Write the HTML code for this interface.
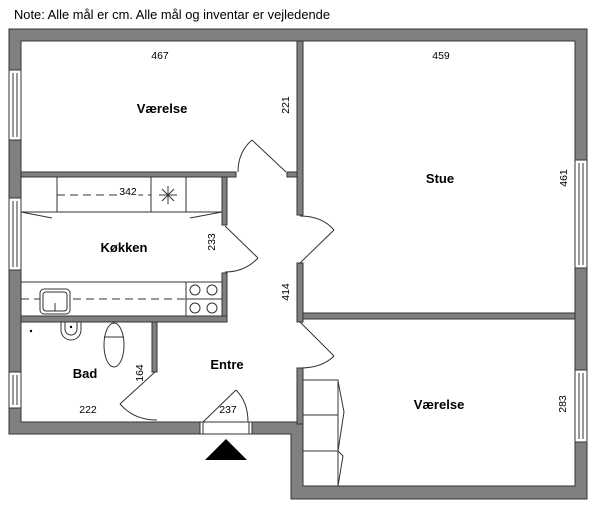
<!DOCTYPE html>
<html><head><meta charset="utf-8"><style>
html,body{margin:0;padding:0;background:#fff;}
svg{display:block;}
text{font-family:"Liberation Sans",sans-serif;fill:#000;}
</style></head><body>
<svg width="600" height="513" viewBox="0 0 600 513" xmlns="http://www.w3.org/2000/svg">
<text x="14" y="19" font-size="12.5" textLength="316" lengthAdjust="spacingAndGlyphs">Note: Alle mål er cm. Alle mål og inventar er vejledende</text>

<g fill="#808080" stroke="#333" stroke-width="1">
<!-- outer walls -->
<polygon points="9,29 587,29 587,499 291,499 291,434 252,434 252,422 303,422 303,486 575,486 575,41 21,41 21,422 200,422 200,434 9,434"/>
<!-- interior -->
<rect x="21" y="172" width="215" height="5"/>
<rect x="287" y="172" width="10" height="5"/>
<rect x="297" y="41" width="6" height="174"/>
<rect x="297" y="263" width="6" height="59"/>
<rect x="303" y="313" width="272" height="6"/>
<rect x="297" y="368" width="6" height="56"/>
<rect x="222" y="177" width="5" height="48"/>
<rect x="222" y="273" width="5" height="49"/>
<rect x="21" y="316" width="206" height="6"/>
<rect x="152" y="322" width="5" height="50"/>
</g>

<!-- windows -->
<g fill="#fff" stroke="#333" stroke-width="1">
<rect x="9" y="70" width="12" height="70"/><line x1="13" y1="73" x2="13" y2="137"/><line x1="17" y1="73" x2="17" y2="137"/>
<rect x="9" y="198" width="12" height="72"/><line x1="13" y1="201" x2="13" y2="267"/><line x1="17" y1="201" x2="17" y2="267"/>
<rect x="9" y="372" width="12" height="36"/><line x1="13" y1="375" x2="13" y2="405"/><line x1="17" y1="375" x2="17" y2="405"/>
<rect x="575" y="160" width="12" height="108"/><line x1="579" y1="163" x2="579" y2="265"/><line x1="583" y1="163" x2="583" y2="265"/>
<rect x="575" y="370" width="12" height="72"/><line x1="579" y1="373" x2="579" y2="439"/><line x1="583" y1="373" x2="583" y2="439"/>
<rect x="200" y="422" width="52" height="12"/><line x1="203" y1="422" x2="203" y2="434"/><line x1="249" y1="422" x2="249" y2="434"/>
</g>

<!-- doors -->
<g fill="none" stroke="#333" stroke-width="1">
<line x1="286" y1="172" x2="252" y2="140"/><path d="M252,140 Q238,152 238,172"/>
<line x1="225" y1="226" x2="258" y2="258"/><path d="M258,258 Q245,272 225,272"/>
<line x1="300" y1="263" x2="334" y2="230"/><path d="M300,216 Q322,216 334,230"/>
<line x1="300" y1="322" x2="334" y2="356"/><path d="M334,356 Q322,368 300,368"/>
<line x1="155" y1="372" x2="120" y2="404"/><path d="M120,404 Q134,420 157,420"/>
<line x1="203" y1="422" x2="236" y2="390"/><path d="M236,390 Q248,402 248,422"/>
</g>

<!-- kitchen -->
<g fill="none" stroke="#333" stroke-width="1">
<rect x="21" y="177" width="201" height="35"/>
<line x1="57" y1="177" x2="57" y2="212"/><line x1="151" y1="177" x2="151" y2="212"/><line x1="186" y1="177" x2="186" y2="212"/>
<line x1="57" y1="195" x2="151" y2="195" stroke-dasharray="8,5"/>
<line x1="168" y1="186" x2="168" y2="204"/><line x1="159" y1="195" x2="177" y2="195"/><line x1="162" y1="189" x2="174" y2="201"/><line x1="174" y1="189" x2="162" y2="201"/>
<line x1="21" y1="212" x2="52" y2="218"/><line x1="222" y1="212" x2="190" y2="218"/>
<rect x="21" y="282" width="201" height="34"/>
<line x1="186" y1="282" x2="186" y2="316"/>
<line x1="21" y1="299" x2="186" y2="299" stroke-dasharray="8,5"/>
<line x1="186" y1="299" x2="222" y2="299"/>
<circle cx="195" cy="290" r="5"/><circle cx="212" cy="290" r="5"/><circle cx="195" cy="308" r="5"/><circle cx="212" cy="308" r="5"/>
<rect x="40" y="289" width="30" height="25" rx="4" fill="#fff"/><rect x="43" y="292" width="24" height="19" rx="3"/>
<line x1="55" y1="303" x2="55" y2="311"/>
<!-- bath -->
<path d="M61,322 L61,330 A10,10 0 0 0 81,330 L81,322"/><path d="M65,322 L65,329 A6,6 0 0 0 77,329 L77,322"/>
<ellipse cx="114" cy="345" rx="10" ry="22"/><line x1="104" y1="337" x2="124" y2="337"/>
<rect x="303" y="380" width="35" height="106"/>
<line x1="303" y1="415" x2="338" y2="415"/><line x1="303" y1="451" x2="338" y2="451"/>
<polyline points="338,381 344,412 338,451 343,456 338,486"/>
</g>
<circle cx="71" cy="327" r="1.2"/><circle cx="31" cy="331" r="1.2"/>
<polygon points="205,460 226,439 247,460" fill="#000"/>

<g font-size="10.5" text-anchor="middle">
<text x="160" y="59">467</text>
<text x="441" y="59">459</text>
<text x="128" y="195" style="paint-order:stroke" stroke="#fff" stroke-width="4">342</text>
<text x="88" y="413">222</text>
<text x="228" y="413">237</text>
<text transform="translate(289,105) rotate(-90)">221</text>
<text transform="translate(567,178) rotate(-90)">461</text>
<text transform="translate(215,242) rotate(-90)">233</text>
<text transform="translate(289,292) rotate(-90)">414</text>
<text transform="translate(143,373) rotate(-90)">164</text>
<text transform="translate(566,404) rotate(-90)">283</text>
</g>
<g font-size="13" font-weight="bold" text-anchor="middle">
<text x="162" y="113">Værelse</text>
<text x="440" y="183">Stue</text>
<text x="124" y="252">Køkken</text>
<text x="227" y="369">Entre</text>
<text x="85" y="378">Bad</text>
<text x="439" y="409">Værelse</text>
</g>
</svg>
</body></html>
